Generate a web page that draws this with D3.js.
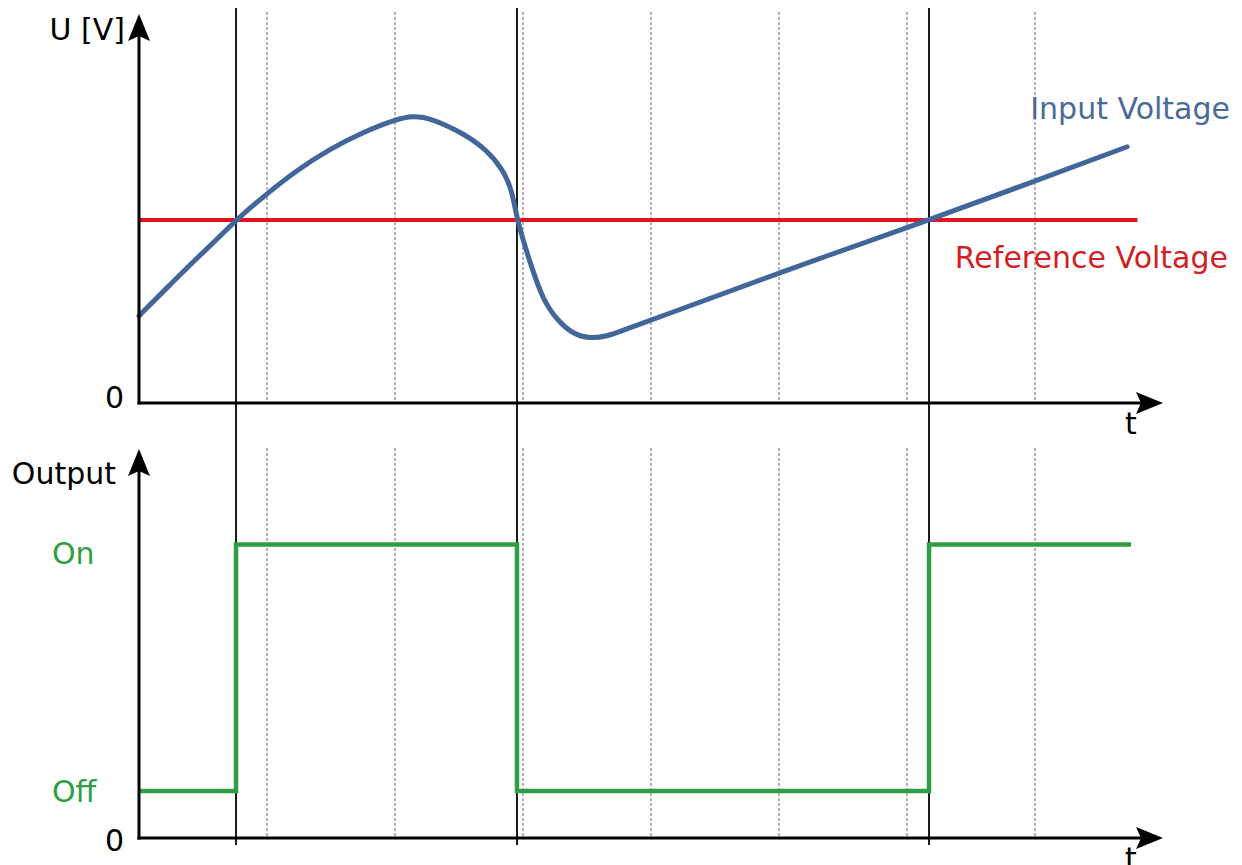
<!DOCTYPE html>
<html><head><meta charset="utf-8">
<script src="https://cdn.jsdelivr.net/npm/d3@7"></script>
<style>body{margin:0;background:#fff}svg{display:block;font-family:"DejaVu Sans",sans-serif}</style>
</head><body><svg id="c" width="1242" height="865"></svg>
<script>
// ---- data ----
const inputT = [0, 0.1875, 0.453, 0.633, 0.758, 1.0, 1.234, 1.492, 1.75, 2.016, 2.14, 2.273, 2.531, 2.719, 2.844, 2.914, 2.953, 3.055, 3.156, 3.266, 3.39, 3.52, 3.656, 3.78, 4.0, 5.0, 6.172, 7.0, 7.72];
const inputV = [2.38, 3.04, 3.96, 4.55, 5.0, 5.72, 6.36, 6.94, 7.40, 7.76, 7.84, 7.79, 7.38, 6.91, 6.37, 5.82, 5.0, 3.83, 2.81, 2.27, 1.88, 1.76, 1.82, 1.99, 2.26, 3.56, 5.0, 6.06, 7.0];
const refV = 5.0;
const refRange = [0, 7.8];
const switchTimes = [0.758, 2.953, 6.172];
const outputT = [0, 0.758, 2.953, 6.172, 7.75];
const outputState = [1, 6.25, 1, 6.25, 6.25]; // Off=1, On=6.25
const gridTimes = [1, 2, 3, 4, 5, 6, 7];
const outTickLabels = ["Off", "On"];
const outTickValues = [1, 6.25];
const seriesLabels = ["Input Voltage", "Reference Voltage"];

// ---- scales ----
const svg = d3.select("#c");
const x = d3.scaleLinear().domain([0, 8]).range([139, 1163]);
const yTop = d3.scaleLinear().domain([0, 10.6]).range([403, 15]);
const yBot = d3.scaleLinear().domain([0, 8.26]).range([838, 450]);

const blue = "#42659a", red = "#e5121b", green = "#2f9e45";

// dotted grid
const g = svg.append("g");
gridTimes.forEach(t => {
  g.append("line").attr("x1", x(t)).attr("x2", x(t)).attr("y1", 12).attr("y2", yTop(0))
    .attr("stroke", "#9a9a9a").attr("stroke-width", 1.5).attr("stroke-dasharray", "3,2");
  g.append("line").attr("x1", x(t)).attr("x2", x(t)).attr("y1", 448).attr("y2", yBot(0))
    .attr("stroke", "#9a9a9a").attr("stroke-width", 1.5).attr("stroke-dasharray", "3,2");
});
// switching lines
switchTimes.forEach(t => {
  g.append("line").attr("x1", x(t)).attr("x2", x(t)).attr("y1", 8).attr("y2", 845)
    .attr("stroke", "#1a1a1a").attr("stroke-width", 2);
});

// reference line
svg.append("line").attr("x1", x(refRange[0])).attr("x2", x(refRange[1]))
  .attr("y1", yTop(refV)).attr("y2", yTop(refV)).attr("stroke", red).attr("stroke-width", 4);

// input curve
const pts = inputT.map((t, i) => [t, inputV[i]]);
svg.append("path").datum(pts)
  .attr("d", d3.line().x(d => x(d[0])).y(d => yTop(d[1])).curve(d3.curveBasis))
  .attr("fill", "none").attr("stroke", blue).attr("stroke-width", 5).attr("stroke-linecap", "round");

// output step
const opts = outputT.map((t, i) => [t, outputState[i]]);
svg.append("path").datum(opts)
  .attr("d", d3.line().x(d => x(d[0])).y(d => yBot(d[1])).curve(d3.curveStepAfter))
  .attr("fill", "none").attr("stroke", green).attr("stroke-width", 4.5);

// axes with arrows
function arrowUp(xp, yp) {
  return `M${xp},${yp} L${xp + 11},${yp + 27} L${xp},${yp + 22} L${xp - 11},${yp + 27} Z`;
}
function arrowRight(xp, yp) {
  return `M${xp},${yp} L${xp - 27},${yp - 11} L${xp - 22},${yp} L${xp - 27},${yp + 11} Z`;
}
[[yTop, 14], [yBot, 449]].forEach(([ys, top]) => {
  svg.append("line").attr("x1", x(0)).attr("x2", x(0)).attr("y1", ys(0) + 1.5).attr("y2", top + 15)
    .attr("stroke", "#000").attr("stroke-width", 3);
  svg.append("line").attr("x1", x(0) - 1.5).attr("x2", x(8) - 15).attr("y1", ys(0)).attr("y2", ys(0))
    .attr("stroke", "#000").attr("stroke-width", 3);
  svg.append("path").attr("d", arrowUp(x(0), top)).attr("fill", "#000");
  svg.append("path").attr("d", arrowRight(x(8), ys(0))).attr("fill", "#000");
  svg.append("text").attr("x", x(7.75)).attr("y", ys(0) + 31).attr("text-anchor", "middle")
    .attr("font-size", 30).text("t");
});

// labels
const fs = 30;
svg.append("text").attr("x", 125).attr("y", 40).attr("text-anchor", "end").attr("font-size", fs).text("U [V]");
svg.append("text").attr("x", 124).attr("y", 408).attr("text-anchor", "end").attr("font-size", fs).text("0");
svg.append("text").attr("x", 116).attr("y", 484).attr("text-anchor", "end").attr("font-size", fs).text("Output");
svg.append("text").attr("x", 124).attr("y", 851).attr("text-anchor", "end").attr("font-size", fs).text("0");
const labelDy = [11, 20];
outTickValues.forEach((v, i) => {
  svg.append("text").attr("x", 52).attr("y", yBot(v) + labelDy[i]).attr("font-size", fs)
    .attr("fill", green).text(outTickLabels[i]);
});
svg.append("text").attr("x", 1230).attr("y", 119).attr("text-anchor", "end").attr("font-size", fs)
  .attr("fill", "#4a6b96").text(seriesLabels[0]);
svg.append("text").attr("x", 1228).attr("y", 268).attr("text-anchor", "end").attr("font-size", fs)
  .attr("fill", "#d21f26").text(seriesLabels[1]);
</script></body></html>
